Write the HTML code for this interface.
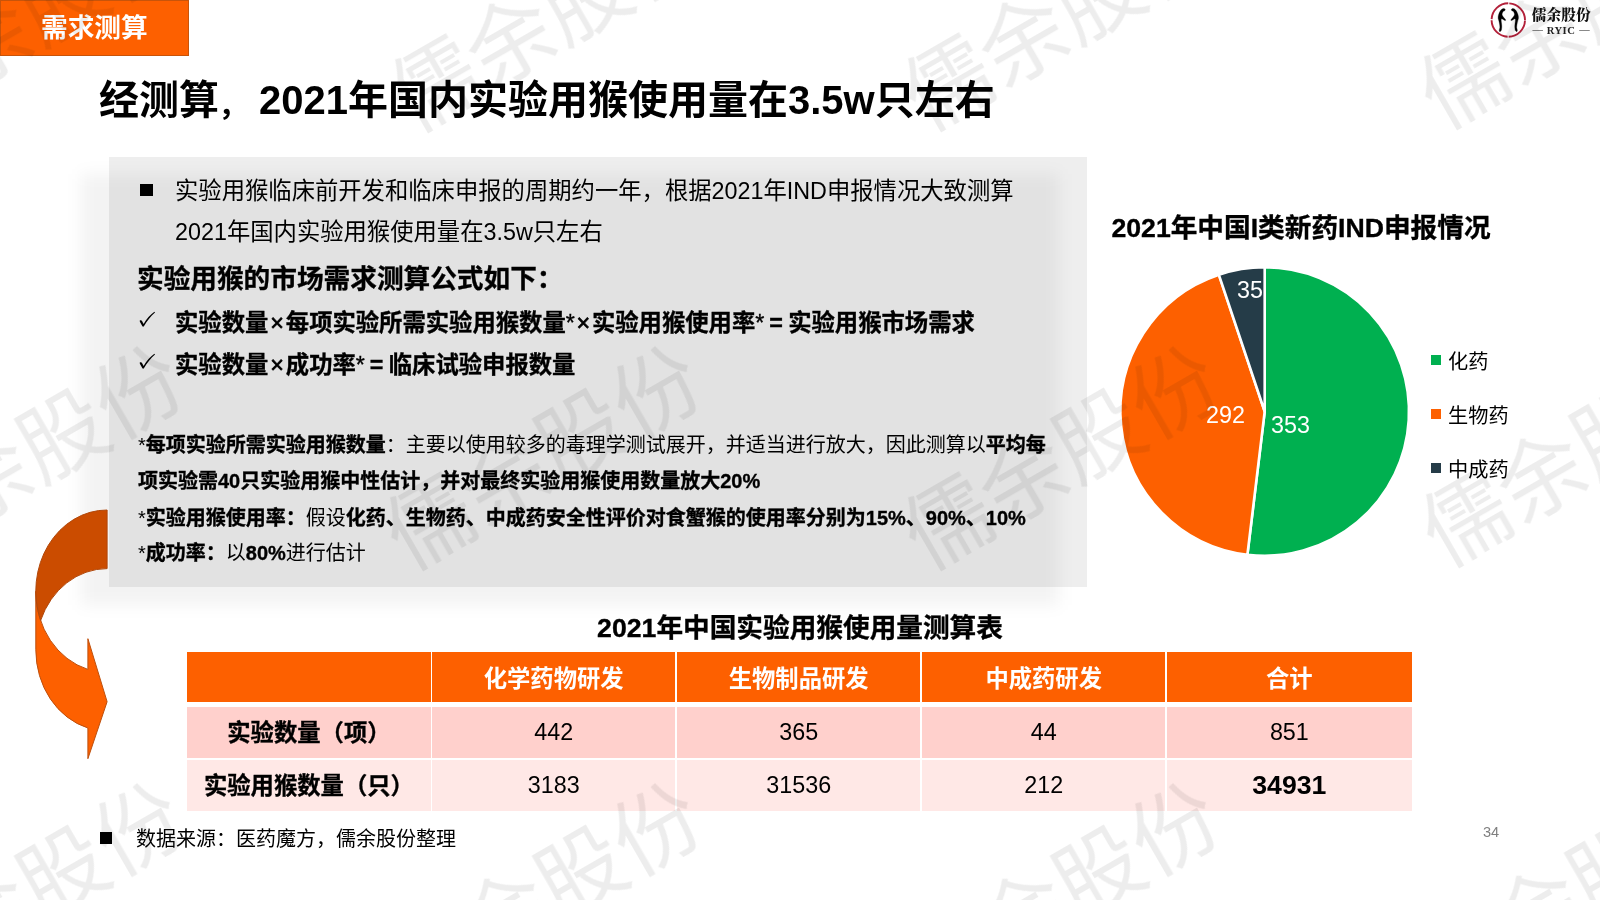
<!DOCTYPE html>
<html lang="zh-CN">
<head>
<meta charset="utf-8">
<title>需求测算</title>
<style>
html,body{margin:0;padding:0;background:#fff;}
body{width:1600px;height:900px;position:relative;overflow:hidden;
  font-family:"Liberation Sans","Noto Sans CJK SC",sans-serif;color:#000;}
.abs{position:absolute;white-space:nowrap;will-change:transform;}
b,.b{font-weight:700;-webkit-text-stroke:0.35px currentColor;}
/* watermark */
.wm{position:absolute;width:440px;height:110px;margin-left:-220px;margin-top:-55px;
  line-height:110px;text-align:center;font-size:87px;font-weight:400;
  color:rgba(0,0,0,0.07);transform:rotate(-30deg);white-space:nowrap;
  font-family:"Noto Sans CJK SC",sans-serif;z-index:10;pointer-events:none;}
/* tab */
#tab{left:0;top:0;width:187px;height:53.5px;background:#fd6000;border:1px solid #c8540a;
  color:#fff;font-weight:700;font-size:26.67px;line-height:54px;z-index:2;}
#tab span{position:absolute;left:40px;top:-0.5px;}
#title{left:99px;top:70px;font-size:40px;font-weight:700;line-height:60px;z-index:2;}
/* grey box */
#box{left:109px;top:157px;width:978px;height:430px;z-index:1;background:rgba(0,0,0,0.067);}
#boxsh{left:81px;top:174px;width:978px;height:431px;z-index:1;background:rgba(0,0,0,0.047);filter:blur(8px);}
.l14{font-size:23.33px;line-height:42px;z-index:3;}
.l16{font-size:26.67px;line-height:44px;z-index:3;}
.l12{font-size:20px;line-height:36px;z-index:3;}
.sq{position:absolute;background:#000;z-index:3;}
.x{display:inline-block;width:17.5px;text-align:center;font-weight:400;-webkit-text-stroke:0.7px currentColor;}
.as{display:inline-block;width:8.7px;text-align:center;font-weight:400;}
.eq{display:inline-block;width:24.3px;text-align:center;}
/* table */
.c{position:absolute;will-change:transform;text-align:center;font-size:23.33px;z-index:2;white-space:nowrap;}
.h{top:652px;height:49.5px;line-height:54.5px;background:#fd6000;color:#fff;font-weight:700;}
.r1{top:707px;height:51px;line-height:50px;background:#ffd0cc;}
.r2{top:760px;height:51px;line-height:50px;background:#ffe8e6;}
.c0{left:187px;width:243.8px;}
.c1{left:432.3px;width:243.4px;}
.c2{left:677.3px;width:243.4px;}
.c3{left:922.3px;width:243.4px;}
.c4{left:1167.3px;width:244.7px;}
</style>
</head>
<body>
<!-- watermarks -->
<div class="wm" style="left:22px;top:15px">儒余股份</div>
<div class="wm" style="left:545px;top:14px">儒余股份</div>
<div class="wm" style="left:1058px;top:13px">儒余股份</div>
<div class="wm" style="left:1574px;top:10.5px">儒余股份</div>
<div class="wm" style="left:22px;top:452px">儒余股份</div>
<div class="wm" style="left:540px;top:452px">儒余股份</div>
<div class="wm" style="left:1058px;top:452px">儒余股份</div>
<div class="wm" style="left:1576px;top:449px">儒余股份</div>
<div class="wm" style="left:22px;top:889px">儒余股份</div>
<div class="wm" style="left:540px;top:889px">儒余股份</div>
<div class="wm" style="left:1058px;top:889px">儒余股份</div>
<div class="wm" style="left:1572px;top:886px">儒余股份</div>

<div id="tab" class="abs"><span>需求测算</span></div>
<div id="title" class="abs">经测算<span style="display:inline-block;width:40px;transform:translate(-3px,0px) scale(.74);transform-origin:22% 78%">，</span>2021年国内实验用猴使用量在3.5w只左右</div>

<div id="boxsh" class="abs"></div>
<div id="box" class="abs"></div>

<div class="sq" style="left:139.5px;top:183.5px;width:13.5px;height:12.3px"></div>
<div class="abs l14" style="left:175px;top:170px">实验用猴临床前开发和临床申报的周期约一年，根据2021年IND申报情况大致测算</div>
<div class="abs l14" style="left:175px;top:211px">2021年国内实验用猴使用量在3.5w只左右</div>
<div class="abs l16 b" style="left:137px;top:256.5px">实验用猴的市场需求测算公式如下：</div>
<div class="abs l14 b" style="left:175px;top:302px">实验数量<span class="x">×</span>每项实验所需实验用猴数量<span class="as">*</span><span class="x">×</span>实验用猴使用率<span class="as">*</span><span class="eq">=</span>实验用猴市场需求</div>
<div class="abs l14 b" style="left:175px;top:344px">实验数量<span class="x">×</span>成功率<span class="as">*</span><span class="eq">=</span>临床试验申报数量</div>

<div class="abs l12" style="left:138px;top:427px">*<b>每项实验所需实验用猴数量</b>：主要以使用较多的毒理学测试展开，并适当进行放大，因此测算以<b>平均每</b></div>
<div class="abs l12 b" style="left:138px;top:463px">项实验需40只实验用猴中性估计，并对最终实验用猴使用数量放大20%</div>
<div class="abs l12" style="left:138px;top:500px">*<b>实验用猴使用率：</b>假设<b>化药、生物药、中成药安全性评价对食蟹猴的使用率分别为15%、90%、10%</b></div>
<div class="abs l12" style="left:138px;top:535px">*<b>成功率：</b>以<b>80%</b>进行估计</div>

<!-- check marks -->
<svg class="abs" style="left:138px;top:308px;z-index:3" width="20" height="22" viewBox="138 308 20 22"><path d="M139.8 320.6 C140.4 320 141.4 320 141.9 320.8 L143.6 324 C146.6 318.8 150.2 314.8 154.4 311.8 L155 312.4 C150.6 316.4 146.8 321 143.9 326.3 C143.5 326.8 142.7 326.8 142.4 326.3 L140 321.9 C139.7 321.4 139.6 321 139.8 320.6 Z" fill="#000"/></svg>
<svg class="abs" style="left:138px;top:350px;z-index:3" width="20" height="22" viewBox="138 308 20 22"><path d="M139.8 320.6 C140.4 320 141.4 320 141.9 320.8 L143.6 324 C146.6 318.8 150.2 314.8 154.4 311.8 L155 312.4 C150.6 316.4 146.8 321 143.9 326.3 C143.5 326.8 142.7 326.8 142.4 326.3 L140 321.9 C139.7 321.4 139.6 321 139.8 320.6 Z" fill="#000"/></svg>

<!-- curved arrow -->
<svg class="abs" style="left:30px;top:500px;z-index:2" width="90" height="270" viewBox="30 500 90 270">
  <path d="M35.8 591.2 A71.3 81.2 0 0 0 87.9 669.4 L87.9 638.7 L107.1 701.7 L87.9 758.7 L87.9 728.0 A71.3 81.2 0 0 1 35.8 649.8 Z" fill="#fd6000" stroke="#bd4f0c" stroke-width="1" stroke-linejoin="miter"/>
  <path d="M107.1 568.6 A71.3 81.2 0 0 0 40.6 620.5 A71.3 81.2 0 0 1 107.1 510.0 Z" fill="#cb4c00" stroke="#b0470a" stroke-width="1" stroke-linejoin="miter"/>
</svg>

<!-- pie chart -->
<div class="abs b" style="left:1001px;top:206px;width:600px;text-align:center;font-size:26.67px;line-height:44px;z-index:3">2021年中国I类新药IND申报情况</div>
<svg class="abs" style="left:1110px;top:258px;z-index:2" width="310" height="310" viewBox="1110 258 310 310">
  <g stroke="#fff" stroke-width="2.6" stroke-linejoin="round">
    <path d="M1264.7 411.5 L1264.70 267.20 A144.3 144.3 0 1 1 1247.41 554.76 Z" fill="#00b050"/>
    <path d="M1264.7 411.5 L1247.41 554.76 A144.3 144.3 0 0 1 1218.84 274.68 Z" fill="#fd6000"/>
    <path d="M1264.7 411.5 L1218.84 274.68 A144.3 144.3 0 0 1 1264.70 267.20 Z" fill="#253c48"/>
  </g>
  <g fill="#fff" font-family="Liberation Sans, sans-serif" font-size="23.33" text-anchor="middle">
    <text x="1250" y="297.7">35</text>
    <text x="1225.5" y="423">292</text>
    <text x="1290.5" y="432.5">353</text>
  </g>
</svg>
<div class="sq" style="left:1430.7px;top:354.6px;width:10.4px;height:10.4px;background:#00b050"></div>
<div class="sq" style="left:1430.7px;top:408.6px;width:10.4px;height:10.4px;background:#fd6000"></div>
<div class="sq" style="left:1430.7px;top:462.6px;width:10.4px;height:10.4px;background:#253c48"></div>
<div class="abs" style="left:1448px;top:347px;font-size:20.2px;line-height:30px;z-index:3">化药</div>
<div class="abs" style="left:1448px;top:401px;font-size:20.2px;line-height:30px;z-index:3">生物药</div>
<div class="abs" style="left:1448px;top:455px;font-size:20.2px;line-height:30px;z-index:3">中成药</div>

<!-- table -->
<div class="abs b" style="left:500px;top:606.3px;width:600px;text-align:center;font-size:26.67px;line-height:44px;z-index:3">2021年中国实验用猴使用量测算表</div>
<div class="c h c0"></div>
<div class="c h c1">化学药物研发</div>
<div class="c h c2">生物制品研发</div>
<div class="c h c3">中成药研发</div>
<div class="c h c4">合计</div>
<div class="c r1 c0 b" style="line-height:52.5px">实验数量（项）</div>
<div class="c r1 c1">442</div>
<div class="c r1 c2">365</div>
<div class="c r1 c3">44</div>
<div class="c r1 c4">851</div>
<div class="c r2 c0 b" style="line-height:53px">实验用猴数量（只）</div>
<div class="c r2 c1">3183</div>
<div class="c r2 c2">31536</div>
<div class="c r2 c3">212</div>
<div class="c r2 c4 b" style="font-size:26.67px;-webkit-text-stroke:0">34931</div>

<!-- footer -->
<div class="sq" style="left:100px;top:832.3px;width:12.3px;height:11.6px"></div>
<div class="abs" style="left:136px;top:821px;font-size:20px;line-height:36px;z-index:3">数据来源：医药魔方，儒余股份整理</div>
<div class="abs" style="left:1483px;top:822.6px;font-size:14.6px;line-height:18px;color:#7f7f7f;z-index:3">34</div>

<!-- logo -->
<svg class="abs" style="left:1488px;top:0;z-index:3" width="112" height="42" viewBox="1488 0 112 42">
  <circle cx="1508.3" cy="20" r="16.7" fill="none" stroke="#b3213a" stroke-width="1.9" stroke-dasharray="25.13 1.1" stroke-dashoffset="-0.55"/>
  <g fill="#000" stroke="#000" stroke-width="0.3" stroke-linejoin="round">
    <path d="M1502.10 8.94 Q1503.03 8.31 1503.85 8.47 Q1504.66 8.63 1505.08 9.22 Q1505.50 9.80 1505.08 10.31 Q1504.66 10.83 1504.01 11.01 Q1503.36 11.20 1502.84 12.01 Q1502.33 12.83 1502.10 13.88 Q1501.86 14.93 1502.68 16.10 Q1503.50 17.26 1504.66 18.55 Q1505.83 19.83 1505.71 20.30 Q1505.60 20.76 1504.78 20.41 Q1503.96 20.06 1502.80 19.25 Q1501.63 18.43 1501.33 19.01 Q1501.02 19.60 1501.21 21.00 Q1501.40 22.40 1501.63 24.26 Q1501.86 26.13 1501.75 27.53 Q1501.63 28.93 1501.47 29.86 Q1501.30 30.80 1500.65 31.31 Q1500.00 31.82 1499.58 31.54 Q1499.16 31.26 1499.23 30.33 Q1499.30 29.40 1499.65 28.46 Q1500.00 27.53 1499.81 25.90 Q1499.62 24.26 1499.23 22.40 Q1498.83 20.53 1498.43 19.60 Q1498.04 18.66 1498.13 17.03 Q1498.22 15.40 1498.88 13.76 Q1499.53 12.13 1500.35 10.85 Q1501.16 9.57 1502.10 8.94 Z"/>
    <path d="M1514.46 8.94 Q1513.53 8.31 1512.71 8.47 Q1511.90 8.63 1511.48 9.22 Q1511.06 9.80 1511.48 10.31 Q1511.90 10.83 1512.55 11.01 Q1513.20 11.20 1513.72 12.01 Q1514.23 12.83 1514.46 13.88 Q1514.70 14.93 1513.88 16.10 Q1513.06 17.26 1511.90 18.55 Q1510.73 19.83 1510.85 20.30 Q1510.96 20.76 1511.78 20.41 Q1512.60 20.06 1513.76 19.25 Q1514.93 18.43 1515.23 19.01 Q1515.54 19.60 1515.35 21.00 Q1515.16 22.40 1514.93 24.26 Q1514.70 26.13 1514.81 27.53 Q1514.93 28.93 1515.09 29.86 Q1515.26 30.80 1515.91 31.31 Q1516.56 31.82 1516.98 31.54 Q1517.40 31.26 1517.33 30.33 Q1517.26 29.40 1516.91 28.46 Q1516.56 27.53 1516.75 25.90 Q1516.94 24.26 1517.33 22.40 Q1517.73 20.53 1518.13 19.60 Q1518.52 18.66 1518.43 17.03 Q1518.34 15.40 1517.68 13.76 Q1517.03 12.13 1516.21 10.85 Q1515.40 9.57 1514.46 8.94 Z"/>
  </g>
  <text x="1561.2" y="20.2" text-anchor="middle" font-family="Liberation Serif, Noto Serif CJK SC, serif" font-weight="900" font-size="14.7" fill="#111">儒余股份</text>
  <text x="1561" y="33.6" text-anchor="middle" font-family="Liberation Serif, serif" font-weight="700" font-size="10.6" fill="#222" letter-spacing="0.5">RYIC</text>
  <text x="1537.6" y="32.5" text-anchor="middle" font-family="Liberation Serif, serif" font-size="10.4" fill="#222">—</text>
  <text x="1584.5" y="32.5" text-anchor="middle" font-family="Liberation Serif, serif" font-size="10.4" fill="#222">—</text>
</svg>

</body>
</html>
